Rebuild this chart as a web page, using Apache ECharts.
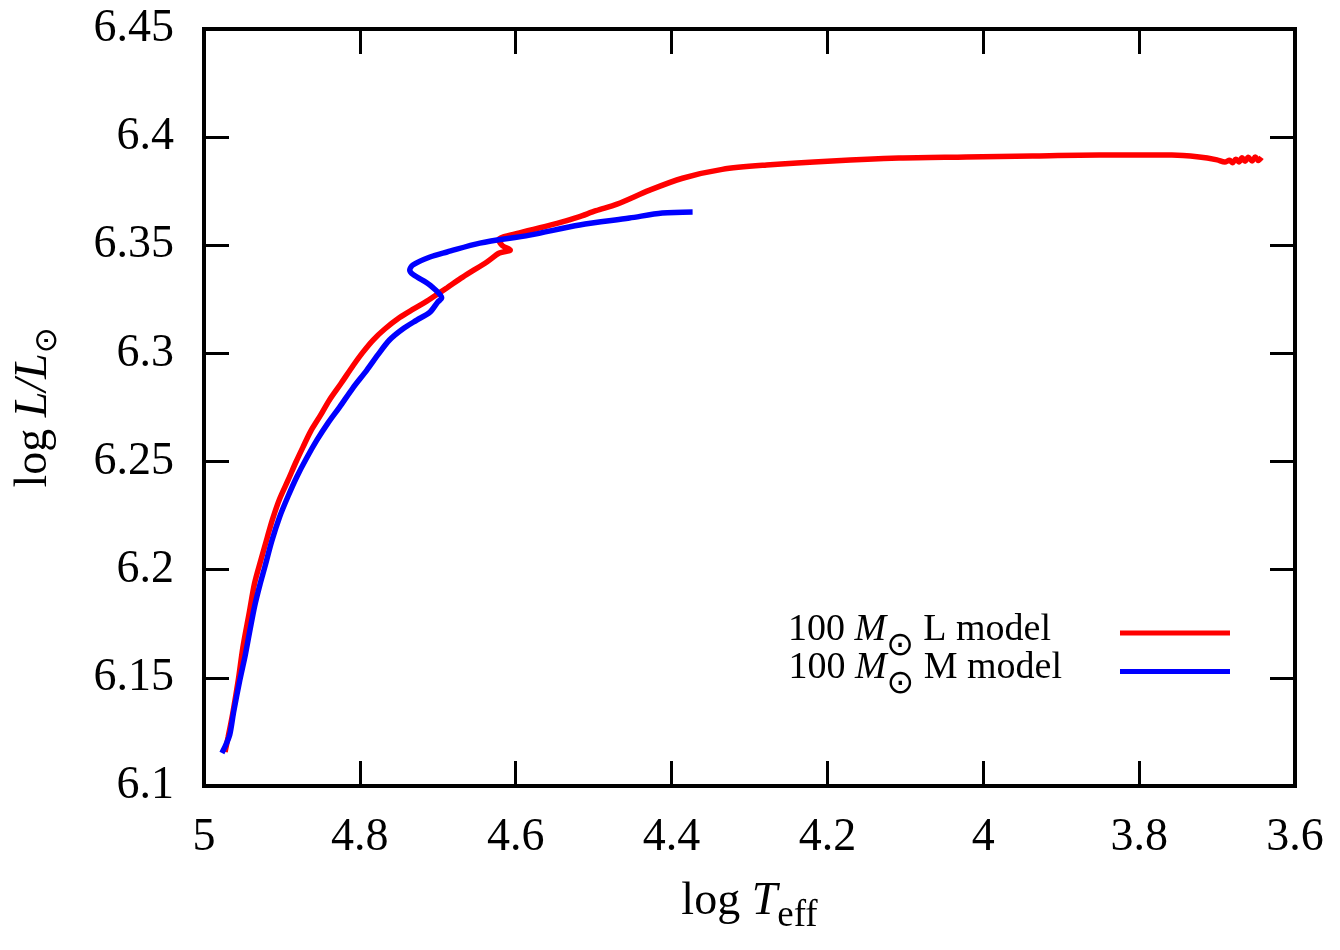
<!DOCTYPE html>
<html>
<head>
<meta charset="utf-8">
<script src="https://cdn.jsdelivr.net/npm/echarts@6/dist/echarts.min.js"></script>
<style>
  html, body { margin: 0; padding: 0; background: #fff; }
  #main { width: 1340px; height: 950px; }
</style>
</head>
<body>
<div id="main"></div>
<script>
// 数据：两条演化轨迹 (log Teff, log L/Lsun)
var redT = [4.973, 4.969, 4.963, 4.956, 4.950, 4.942, 4.935, 4.927, 4.919, 4.912, 4.903,
  4.892, 4.882, 4.873, 4.863, 4.851, 4.839, 4.824, 4.809, 4.796, 4.783, 4.768,
  4.749, 4.731, 4.714, 4.706, 4.688, 4.668, 4.637, 4.621, 4.607, 4.617, 4.622,
  4.595, 4.547, 4.520, 4.497, 4.470, 4.428, 4.386, 4.335, 4.278, 4.194, 4.108, 4.022,
  3.937, 3.851, 3.758, 3.723, 3.700, 3.690, 3.684, 3.680, 3.676, 3.672, 3.668, 3.664,
  3.660, 3.655, 3.651, 3.647, 3.643];
var redL = [6.1157, 6.1227, 6.1338, 6.1490, 6.1643, 6.1800, 6.1939, 6.2045, 6.2147, 6.2234, 6.2327,
  6.2415, 6.2498, 6.2567, 6.2641, 6.2711, 6.2785, 6.2862, 6.2942, 6.3006, 6.3062, 6.3113,
  6.3166, 6.3206, 6.3242, 6.3261, 6.3304, 6.3353, 6.3423, 6.3464, 6.3478, 6.3498, 6.3525,
  6.3557, 6.3601, 6.3630, 6.3660, 6.3690, 6.3755, 6.3810, 6.3851, 6.3871, 6.3890, 6.3903, 6.3908,
  6.3913, 6.3917, 6.3917, 6.3908, 6.3895, 6.3885, 6.3893, 6.3882, 6.3898, 6.3885, 6.3905, 6.3888,
  6.3907, 6.3890, 6.3908, 6.3892, 6.3906];

var blueT = [4.977, 4.972, 4.967, 4.962, 4.954, 4.947, 4.941, 4.935, 4.928, 4.922, 4.913,
  4.903, 4.892, 4.881, 4.869, 4.855, 4.841, 4.826, 4.809, 4.791, 4.777, 4.762, 4.745,
  4.727, 4.710, 4.700, 4.695, 4.710, 4.736, 4.732, 4.710, 4.688, 4.646, 4.582,
  4.518, 4.454, 4.412, 4.373];
var blueL = [6.1153, 6.1190, 6.1236, 6.1342, 6.1490, 6.1606, 6.1721, 6.1832, 6.1934, 6.2012, 6.2133,
  6.2244, 6.2341, 6.2429, 6.2512, 6.2600, 6.2678, 6.2752, 6.2840, 6.2923, 6.2993, 6.3062, 6.3113,
  6.3154, 6.3191, 6.3238, 6.3256, 6.3316, 6.3386, 6.3409, 6.3446, 6.3469, 6.3510, 6.3547,
  6.3594, 6.3626, 6.3649, 6.3654];

var seriesNames = ['100 M⊙ L model', '100 M⊙ M model'];
var legendLabels = [
  '{r|100 }{i|M}{s|⊙}{r| L model}{pl| }',
  '{r|100 }{i|M}{s|⊙}{r| M model}{pm| }'
];

function pairs(xs, ys) {
  var out = [];
  for (var i = 0; i < xs.length; i++) out.push([xs[i], ys[i]]);
  return out;
}

var FONT = "'Liberation Serif', 'DejaVu Serif', serif";
var SUNFONT = "'DejaVu Sans', sans-serif";

var myChart = echarts.init(document.getElementById('main'));

var tickStyle = { inside: true, length: 25, lineStyle: { color: '#000', width: 3 } };

var baseX = {
  type: 'value',
  inverse: true,
  min: 3.6,
  max: 5,
  interval: 0.2,
  splitLine: { show: false },
  axisLine: { show: false, onZero: false },
  axisTick: tickStyle
};
var baseY = {
  type: 'value',
  min: 6.1,
  max: 6.45,
  interval: 0.05,
  splitLine: { show: false },
  axisLine: { show: false, onZero: false },
  axisTick: tickStyle
};

var option = {
  backgroundColor: '#fff',
  animation: false,
  grid: {
    left: 204, right: 45, top: 29, bottom: 164,
    show: true, borderColor: '#000', borderWidth: 4,
    outerBoundsMode: 'none'
  },
  xAxis: [
    Object.assign({}, baseX, {
      position: 'bottom',
      axisLabel: { margin: 29, fontSize: 46, fontFamily: FONT, color: '#000' },
      name: '{r|log }{i|T}{s|eff}',
      nameLocation: 'middle',
      nameGap: 93,
      nameTextStyle: {
        fontFamily: FONT, color: '#000',
        rich: {
          r: { fontFamily: FONT, fontSize: 46, color: '#000', padding: [0, 0, 14, 0] },
          i: { fontFamily: FONT, fontSize: 46, fontStyle: 'italic', color: '#000', padding: [0, 0, 14, 0] },
          s: { fontFamily: FONT, fontSize: 37, color: '#000', padding: [14, 0, 0, 0] }
        }
      }
    }),
    Object.assign({}, baseX, { position: 'top', axisLabel: { show: false } })
  ],
  yAxis: [
    Object.assign({}, baseY, {
      position: 'left',
      axisLabel: { margin: 30, fontSize: 46, fontFamily: FONT, color: '#000' },
      name: '{r|log }{i|L/L}{s|⊙}',
      nameLocation: 'middle',
      nameRotate: 90,
      nameGap: 133,
      nameTextStyle: {
        fontFamily: FONT, color: '#000',
        rich: {
          r: { fontFamily: FONT, fontSize: 46, color: '#000', padding: [0, 0, 14, 0] },
          i: { fontFamily: FONT, fontSize: 46, fontStyle: 'italic', color: '#000', padding: [0, 0, 14, 0] },
          s: { fontFamily: SUNFONT, fontSize: 31, color: '#000', padding: [14, 0, 0, 0] }
        }
      }
    }),
    Object.assign({}, baseY, { position: 'right', axisLabel: { show: false } })
  ],
  legend: {
    orient: 'vertical',
    left: 788,
    top: 611,
    padding: 0,
    align: 'right',
    icon: 'rect',
    itemWidth: 110,
    itemHeight: 5,
    itemGap: -13,
    formatter: function (name) { return legendLabels[seriesNames.indexOf(name)]; },
    textStyle: {
      fontFamily: FONT, fontSize: 38, color: '#000',
      rich: {
        r: { fontFamily: FONT, fontSize: 38, padding: [0, 0, 6, 0] },
        i: { fontFamily: FONT, fontSize: 38, fontStyle: 'italic', padding: [0, 0, 6, 0] },
        s: { fontFamily: SUNFONT, fontSize: 33, padding: [26, 0, 0, 0] },
        pl: { width: 64 },
        pm: { width: 53 }
      }
    },
    data: seriesNames
  },
  series: [
    {
      name: seriesNames[0],
      type: 'line',
      xAxisIndex: 0, yAxisIndex: 0,
      symbol: 'none',
      smooth: 0.3,
      lineStyle: { color: '#ff0000', width: 5.5 },
      itemStyle: { color: '#ff0000' },
      data: pairs(redT, redL)
    },
    {
      name: seriesNames[1],
      type: 'line',
      xAxisIndex: 0, yAxisIndex: 0,
      symbol: 'none',
      smooth: 0.3,
      lineStyle: { color: '#0000ff', width: 5.5 },
      itemStyle: { color: '#0000ff' },
      data: pairs(blueT, blueL)
    }
  ]
};

myChart.setOption(option);
</script>
</body>
</html>
